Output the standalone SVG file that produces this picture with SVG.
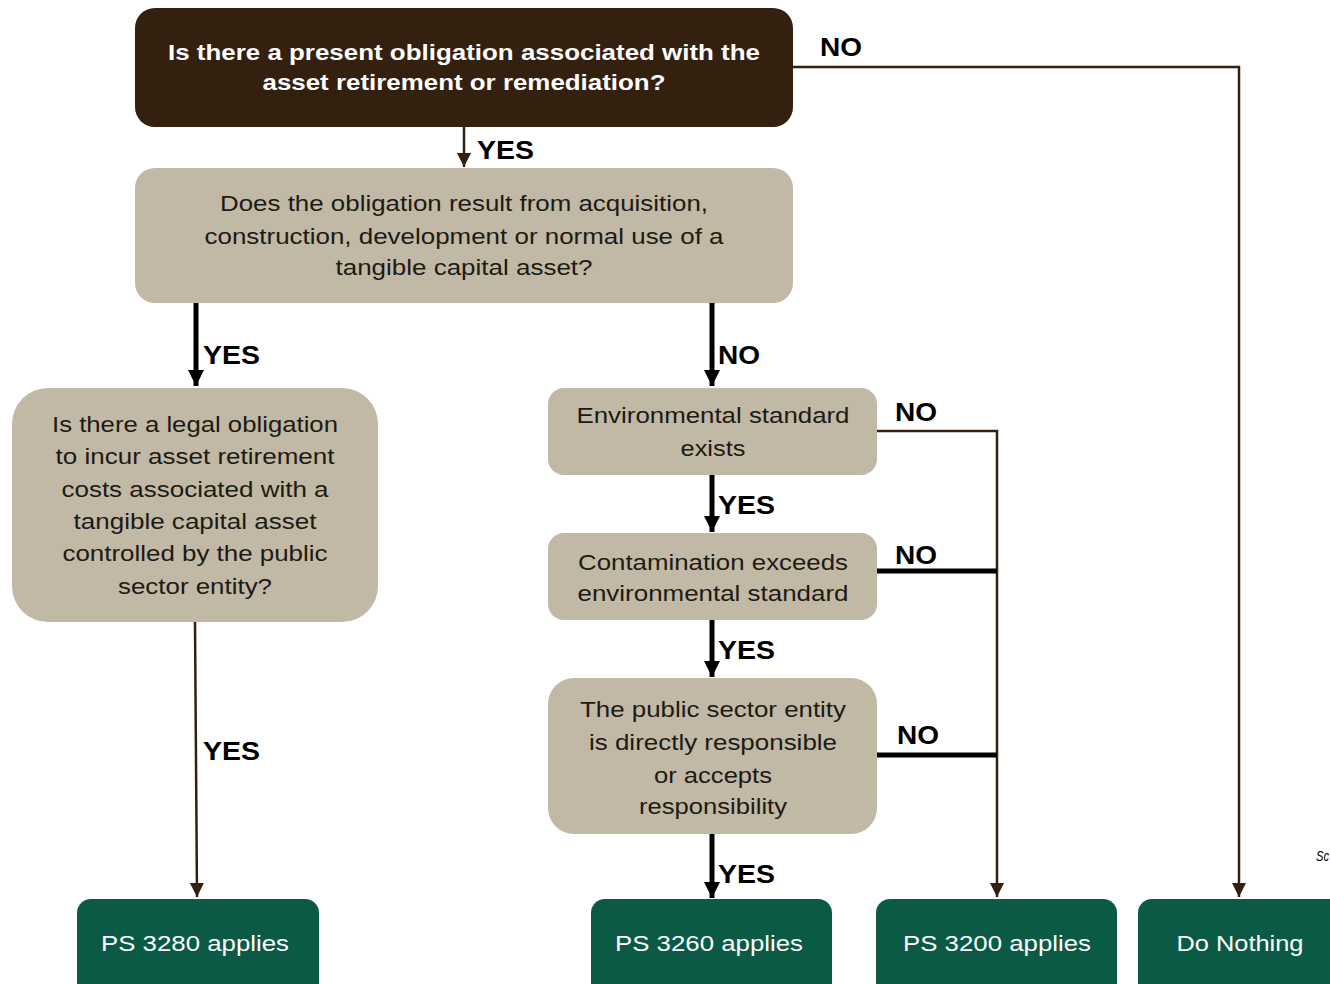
<svg xmlns="http://www.w3.org/2000/svg" width="1330" height="984" viewBox="0 0 1330 984">
<defs>
<style>
.t{font-family:"Liberation Sans",Arial,sans-serif;font-size:22px;fill:#1e1a14;text-anchor:middle}
.tw{font-family:"Liberation Sans",Arial,sans-serif;font-size:22px;font-weight:bold;fill:#ffffff;text-anchor:middle}
.g{font-family:"Liberation Sans",Arial,sans-serif;font-size:22px;fill:#ffffff;text-anchor:middle}
.lab{font-family:"Liberation Sans",Arial,sans-serif;font-size:26px;font-weight:bold;fill:#000}
.thin{stroke:#33200f;stroke-width:2.5;fill:none}
.thick{stroke:#000;stroke-width:5;fill:none}
.tan{fill:#c1b8a5}
.grn{fill:#0b5a45}
</style>
<marker id="ah" viewBox="0 0 14 14" refX="14" refY="7" markerWidth="14" markerHeight="14" markerUnits="userSpaceOnUse" orient="auto"><path d="M0,0 L14,7 L0,14 z" fill="#33200f"/></marker>
<marker id="ahk" viewBox="0 0 16 16" refX="16" refY="8" markerWidth="16" markerHeight="16" markerUnits="userSpaceOnUse" orient="auto"><path d="M0,0 L16,8 L0,16 z" fill="#000"/></marker>
</defs>
<rect width="1330" height="984" fill="#fff"/>

<g id="connectors">
<line class="thin" x1="464" y1="127" x2="464" y2="167" marker-end="url(#ah)"/>
<polyline class="thin" points="793,67 1239,67 1239,897" marker-end="url(#ah)"/>
<line class="thick" x1="196" y1="303" x2="196" y2="386" marker-end="url(#ahk)"/>
<line class="thick" x1="712" y1="303" x2="712" y2="386" marker-end="url(#ahk)"/>
<line class="thin" x1="195" y1="622" x2="197" y2="897" marker-end="url(#ah)"/>
<polyline class="thin" points="877,431 997,431 997,897" marker-end="url(#ah)"/>
<line class="thick" x1="712" y1="475" x2="712" y2="532" marker-end="url(#ahk)"/>
<line class="thick" x1="877" y1="571" x2="997" y2="571"/>
<line class="thick" x1="712" y1="620" x2="712" y2="677" marker-end="url(#ahk)"/>
<line class="thick" x1="877" y1="755" x2="997" y2="755"/>
<line class="thick" x1="712" y1="834" x2="712" y2="898" marker-end="url(#ahk)"/>
<text class="lab" x="477" y="159" textLength="57" lengthAdjust="spacingAndGlyphs">YES</text>
<text class="lab" x="820" y="56" textLength="42" lengthAdjust="spacingAndGlyphs">NO</text>
<text class="lab" x="203" y="364" textLength="57" lengthAdjust="spacingAndGlyphs">YES</text>
<text class="lab" x="718" y="364" textLength="42" lengthAdjust="spacingAndGlyphs">NO</text>
<text class="lab" x="203" y="760" textLength="57" lengthAdjust="spacingAndGlyphs">YES</text>
<text class="lab" x="895" y="421" textLength="42" lengthAdjust="spacingAndGlyphs">NO</text>
<text class="lab" x="718" y="514" textLength="57" lengthAdjust="spacingAndGlyphs">YES</text>
<text class="lab" x="895" y="564" textLength="42" lengthAdjust="spacingAndGlyphs">NO</text>
<text class="lab" x="718" y="659" textLength="57" lengthAdjust="spacingAndGlyphs">YES</text>
<text class="lab" x="897" y="744" textLength="42" lengthAdjust="spacingAndGlyphs">NO</text>
<text class="lab" x="718" y="883" textLength="57" lengthAdjust="spacingAndGlyphs">YES</text>
</g>

<g id="q1">
<rect x="135" y="8" width="658" height="119" rx="20" fill="#33200f"/>
<text class="tw" x="464" y="60" textLength="592" lengthAdjust="spacingAndGlyphs">Is there a present obligation associated with the</text>
<text class="tw" x="464" y="90" textLength="403" lengthAdjust="spacingAndGlyphs">asset retirement or remediation?</text>
</g>

<g id="q2">
<rect class="tan" x="135" y="168" width="658" height="135" rx="20"/>
<text class="t" x="464" y="211" textLength="488" lengthAdjust="spacingAndGlyphs">Does the obligation result from acquisition,</text>
<text class="t" x="464" y="244" textLength="519" lengthAdjust="spacingAndGlyphs">construction, development or normal use of a</text>
<text class="t" x="464" y="275" textLength="257" lengthAdjust="spacingAndGlyphs">tangible capital asset?</text>
</g>

<g id="q3">
<rect class="tan" x="12" y="388" width="366" height="234" rx="36"/>
<text class="t" x="195" y="432" textLength="286" lengthAdjust="spacingAndGlyphs">Is there a legal obligation</text>
<text class="t" x="195" y="464" textLength="279" lengthAdjust="spacingAndGlyphs">to incur asset retirement</text>
<text class="t" x="195" y="497" textLength="267" lengthAdjust="spacingAndGlyphs">costs associated with a</text>
<text class="t" x="195" y="529" textLength="243" lengthAdjust="spacingAndGlyphs">tangible capital asset</text>
<text class="t" x="195" y="561" textLength="265" lengthAdjust="spacingAndGlyphs">controlled by the public</text>
<text class="t" x="195" y="594" textLength="154" lengthAdjust="spacingAndGlyphs">sector entity?</text>
</g>

<g id="env">
<rect class="tan" x="548" y="388" width="329" height="87" rx="16"/>
<text class="t" x="713" y="423" textLength="273" lengthAdjust="spacingAndGlyphs">Environmental standard</text>
<text class="t" x="713" y="456" textLength="65" lengthAdjust="spacingAndGlyphs">exists</text>
</g>

<g id="contam">
<rect class="tan" x="548" y="533" width="329" height="87" rx="16"/>
<text class="t" x="713" y="570" textLength="270" lengthAdjust="spacingAndGlyphs">Contamination exceeds</text>
<text class="t" x="713" y="601" textLength="271" lengthAdjust="spacingAndGlyphs">environmental standard</text>
</g>

<g id="resp">
<rect class="tan" x="548" y="678" width="329" height="156" rx="26"/>
<text class="t" x="713" y="717" textLength="266" lengthAdjust="spacingAndGlyphs">The public sector entity</text>
<text class="t" x="713" y="750" textLength="248" lengthAdjust="spacingAndGlyphs">is directly responsible</text>
<text class="t" x="713" y="783" textLength="118" lengthAdjust="spacingAndGlyphs">or accepts</text>
<text class="t" x="713" y="814" textLength="148" lengthAdjust="spacingAndGlyphs">responsibility</text>
</g>

<g id="ps3280">
<rect class="grn" x="77" y="899" width="242" height="100" rx="14"/>
<text class="g" x="195" y="951" textLength="188" lengthAdjust="spacingAndGlyphs">PS 3280 applies</text>
</g>
<g id="ps3260">
<rect class="grn" x="591" y="899" width="241" height="100" rx="14"/>
<text class="g" x="709" y="951" textLength="188" lengthAdjust="spacingAndGlyphs">PS 3260 applies</text>
</g>
<g id="ps3200">
<rect class="grn" x="876" y="899" width="241" height="100" rx="14"/>
<text class="g" x="997" y="951" textLength="188" lengthAdjust="spacingAndGlyphs">PS 3200 applies</text>
</g>
<g id="donothing">
<rect class="grn" x="1138" y="899" width="220" height="100" rx="14"/>
<text class="g" x="1240" y="951" textLength="127" lengthAdjust="spacingAndGlyphs">Do Nothing</text>
</g>

<text x="1316" y="861" font-family="Liberation Sans, Arial, sans-serif" font-size="14" font-style="italic" fill="#000" textLength="13" lengthAdjust="spacingAndGlyphs">Sc</text>
</svg>
